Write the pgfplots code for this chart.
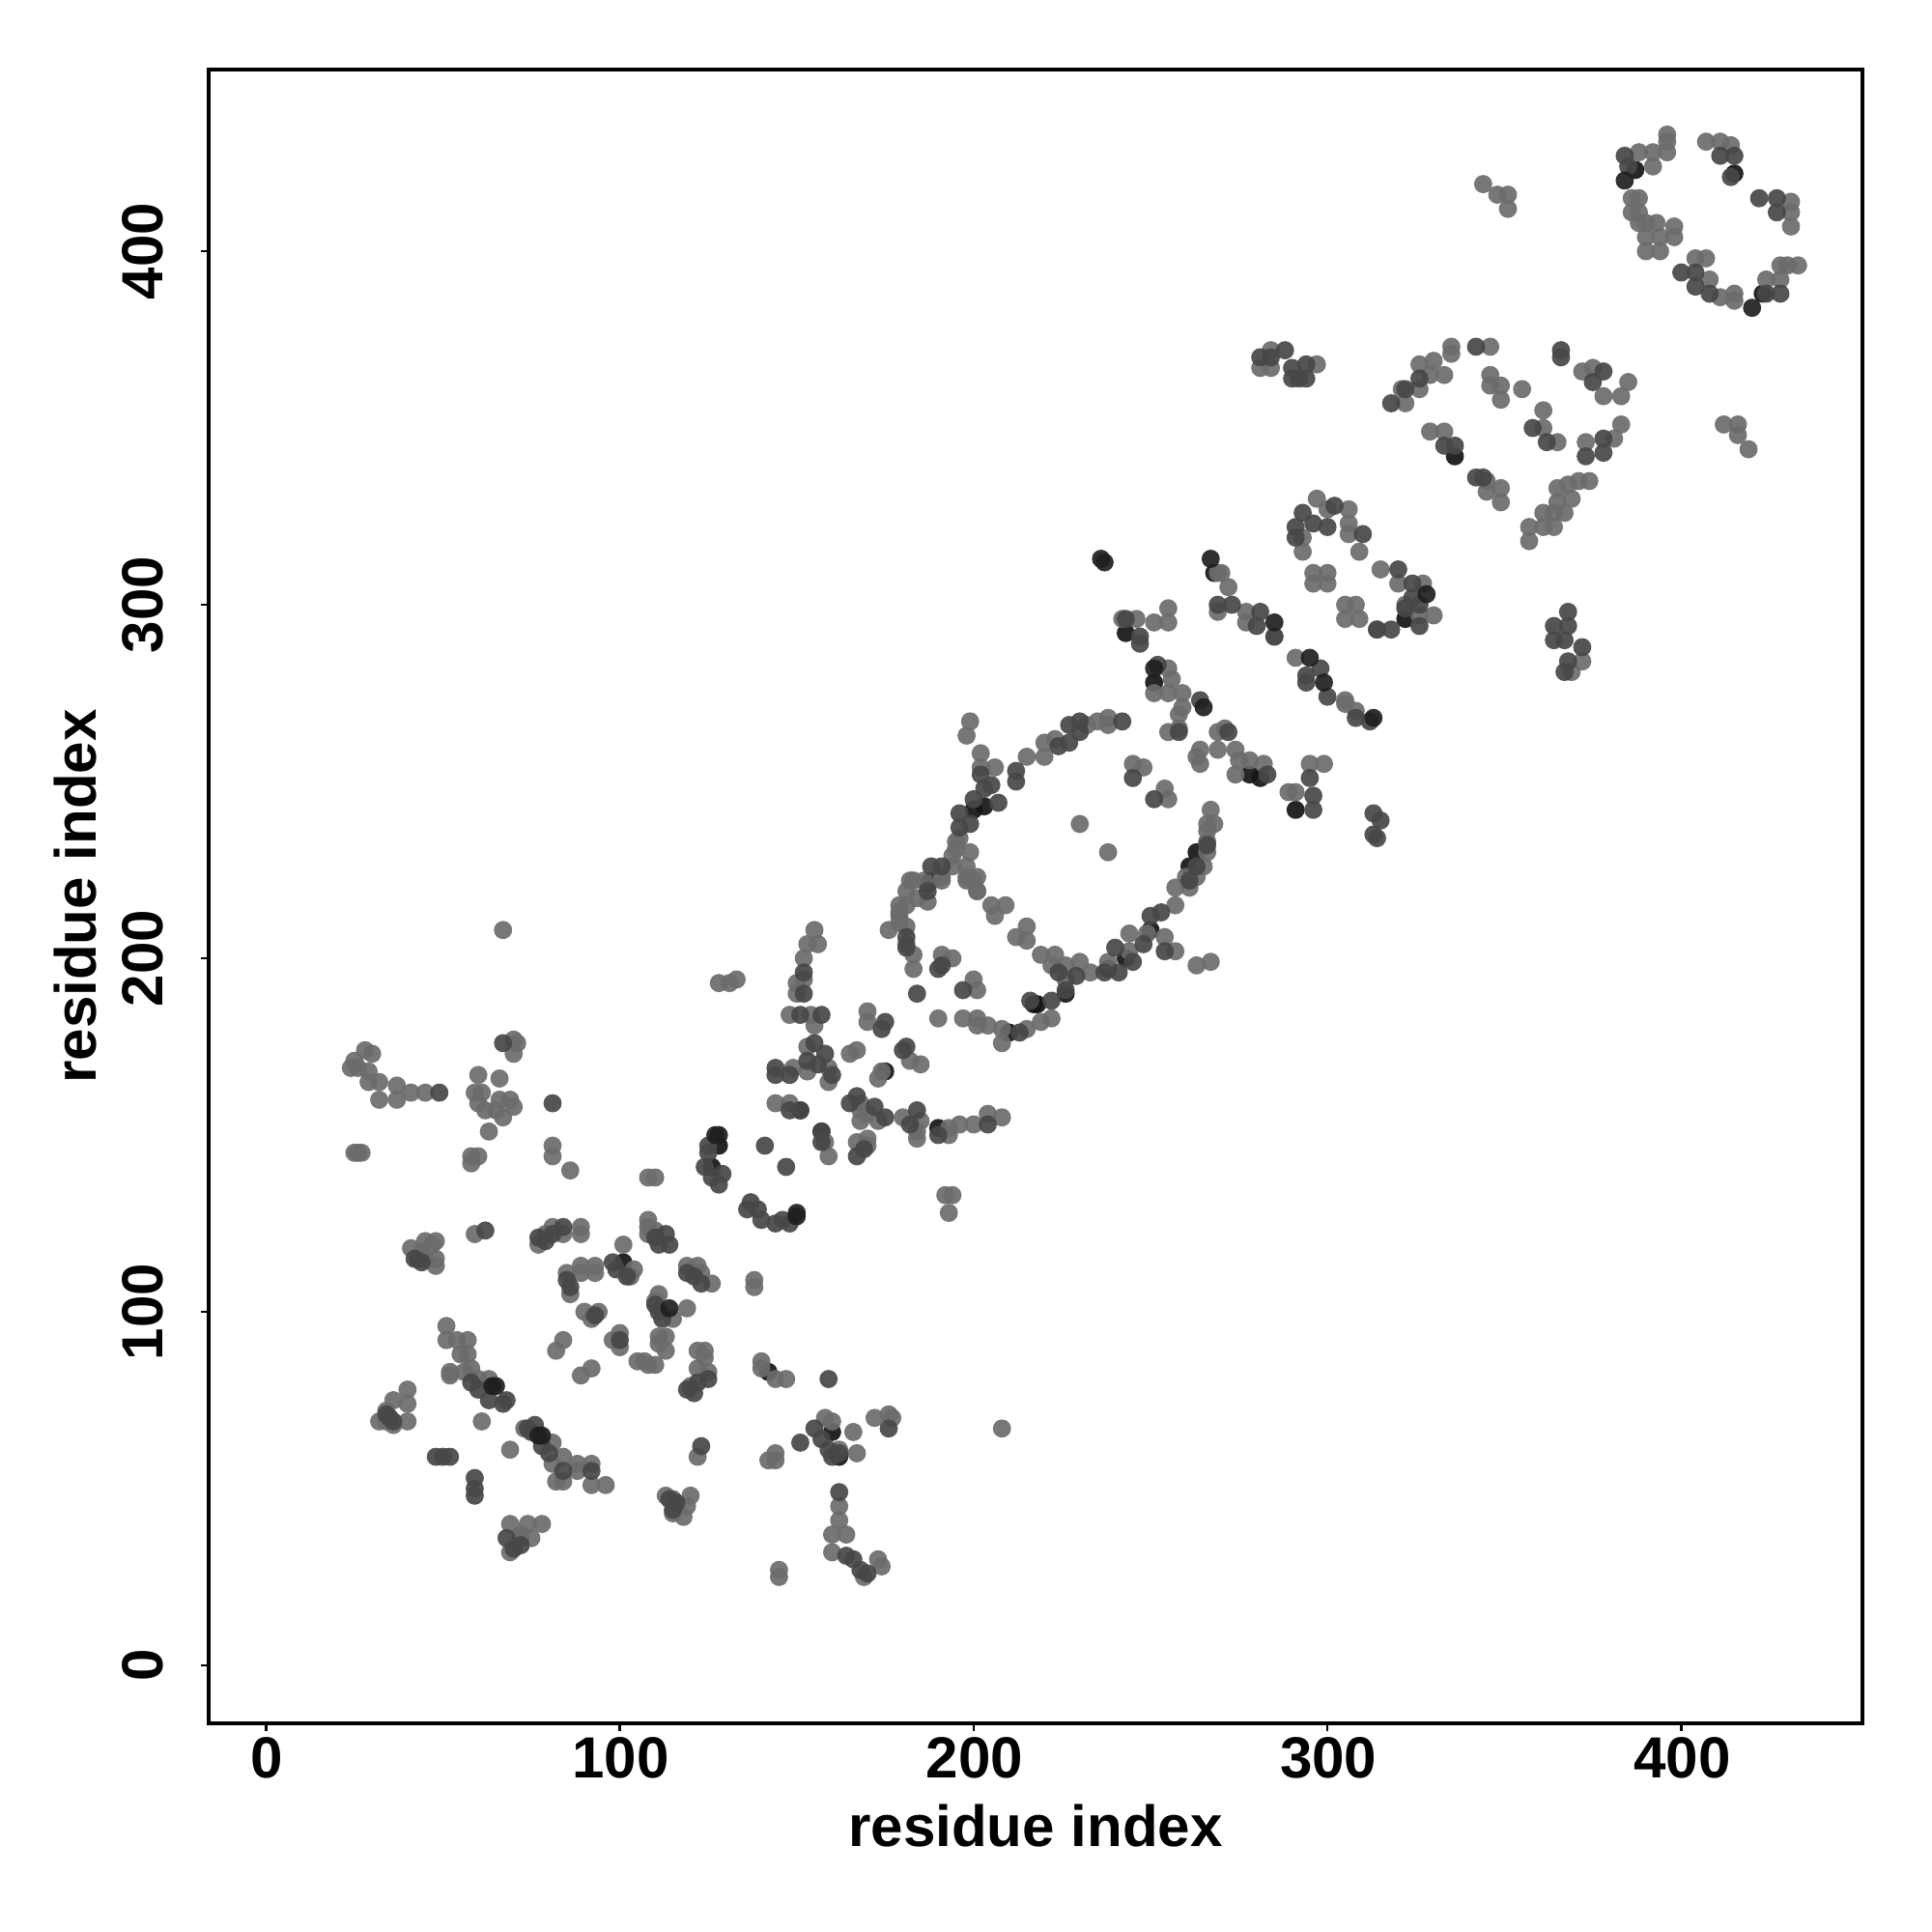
\documentclass[border=0pt]{standalone}
\usepackage{pgfplots}
\pgfplotsset{compat=1.18}
\usepackage{fontspec}
\setmainfont{Liberation Sans}
\pgfplotsset{
  contact/.style={only marks,mark=*,mark size=2.68pt,
    mark options={draw opacity=0,line width=0pt,fill=black!#1,fill opacity=0.92}},
}

\begin{document}
\begin{tikzpicture}
\path[use as bounding box] (0,0) rectangle (200mm,200mm);
\begin{axis}[
  at={(21.6mm,21.6mm)}, anchor=south west,
  scale only axis, width=171.2mm, height=171.2mm,
  xmin=-16.2, xmax=451.2, ymin=-16.4, ymax=451.4,
  xtick={0,100,200,300,400}, ytick={0,100,200,300,400},
  xtick pos=bottom, ytick pos=left, tick align=outside,
  major tick length=0.8mm,
  axis line style={line width=0.33mm},
  every tick/.style={black,line width=0.25mm},
  /pgf/number format/assume math mode=true,
  ticklabel style={font=\bfseries\fontsize{17.1}{17.1}\selectfont},
  xticklabel style={yshift=0.55mm,xshift=0.1mm},
  yticklabel style={rotate=90,anchor=south,yshift=2.6mm},
  label style={font=\bfseries\fontsize{17.1}{17.1}\selectfont},
  xlabel={residue index}, ylabel={residue index},
  xlabel style={at={(axis description cs:0.5,-0.0742)},anchor=base},
  ylabel style={at={(axis description cs:-0.068,0.5)},anchor=base},
]
% dark contacts, mostly covered by the others
\addplot[contact=92] coordinates {
(43,115)(101,114)(142,83)(151,157)(157,151)(190,152)(175,168)(203,243)(200,242)(188,222)(187,221)
(217,187)(218,187)(226,190)(238,197)(243,200)(250,208)(261,226)(263,230)(243,292)(251,278)
(278,252)(281,251)(291,242)(268,309)(322,296)(336,342)
(387,423)(423,388)(415,422)(210,179)(162,59)(160,66)(128,147)(126,141)
};
% light grey contacts
\addplot[contact=58] coordinates {
(67,208)(28,174)(30,173)(25,171)(24,169)(26,169)(29,168)(32,165)(29,165)(32,160)(37,164)(37,160)(41,162)(45,162)
(70,177)(71,176)(70,173)(60,167)(66,166)(59,162)(61,162)(60,159)(62,157)(66,160)(69,160)(70,158)(67,155)(63,151)(65,157)
(25,145)(26,145)(27,145)(58,144)(60,144)(58,142)(81,147)(81,144)(86,140)(108,138)(110,138)
(41,118)(45,120)(47,119)(48,120)(44,117)(45,115)(48,113)(48,115)(59,122)(77,119)(79,122)(81,124)(89,124)(89,122)(84,122)
(108,126)(108,124)(110,123)(108,122)(119,113)(122,113)(123,111)(126,108)(138,109)(138,107)
(85,111)(89,113)(93,113)(93,111)(86,105)(89,111)(101,119)(104,112)(103,110)(111,105)(110,103)(115,98)(119,101)
(90,100)(94,100)(92,98)(84,92)(82,89)(92,84)(89,82)(100,94)(98,92)(100,90)(113,93)(111,93)(113,89)(111,91)(110,85)(108,85)(107,86)(105,86)
(122,89)(124,89)(122,84)(125,83)(120,79)(124,87)(140,86)(140,84)(144,81)(147,81)
(51,96)(51,92)(54,92)(57,92)(57,88)(55,88)(52,83)(52,82)(56,83)(58,84)(60,81)(63,81)(61,69)
(40,78)(40,74)(36,75)(34,72)(32,69)(36,68)(40,69)(34,69)
(73,67)(81,63)(84,59)(88,57)(92,57)(88,55)(82,52)(84,52)(92,51)(96,51)(81,57)(69,61)
(69,40)(74,40)(78,40)(75,36)(72,36)(69,32)(72,37)(113,48)(120,48)(115,47)(119,45)(115,43)(118,42)
(122,59)(144,60)(142,58)(144,58)(145,27)(145,25)(158,70)(160,69)(166,66)(167,60)(162,61)(172,70)(176,71)(177,70)(208,67)
(162,45)(162,41)(160,37)(164,37)(160,32)(173,30)(174,28)(169,25)
(128,193)(131,193)(133,194)(155,208)(153,204)(156,204)(152,200)(152,194)(150,193)(150,190)(148,184)(154,184)(155,181)
(153,175)(153,168)(159,169)(159,165)(149,169)(144,159)(148,159)(168,159)(168,157)(170,156)(168,154)(173,154)(180,155)(185,154)
(184,149)(184,151)(193,150)(193,152)(196,153)(200,153)(204,156)(208,155)(170,185)(170,182)(167,174)(165,173)(182,171)(185,170)(174,168)(173,166)
(159,144)(158,148)(170,149)(167,148)(170,147)(192,133)(194,133)(193,128)
(176,208)(181,209)(179,210)(179,213)(181,219)(183,222)(181,215)(183,201)(183,197)(181,204)(187,216)(186,222)(191,223)(200,222)(201,219)(198,223)
(205,215)(209,215)(206,212)(215,209)(212,206)(215,205)(191,201)(194,200)(200,194)(201,191)(190,183)(197,183)(201,183)(201,181)(204,181)(208,180)(208,176)
(215,180)(219,182)(222,183)(219,201)(223,201)(222,198)(226,198)(230,199)(226,194)(233,196)(238,199)(244,202)(244,207)(249,207)(254,206)(257,215)(257,202)(263,198)(267,199)
(257,220)(261,220)(263,223)(260,223)(265,226)(266,230)(266,233)(266,236)(268,238)(266,238)(267,242)
(199,267)(198,263)(202,258)(202,254)(206,254)(215,257)(220,257)(220,261)(223,262)(232,266)(235,267)(238,268)(238,266)
(195,233)(196,234)(195,231)(194,229)(199,230)(198,226)(194,226)(201,223)(198,222)(201,219)(191,222)(182,222)(179,215)(179,212)(184,217)
(230,238)(238,230)(245,255)(248,254)(254,248)(255,245)
(242,296)(246,296)(251,295)(255,299)(255,295)(255,282)(251,275)(256,279)(255,275)(259,275)(259,271)(258,269)(258,265)(255,264)
(271,265)(269,264)(263,257)(264,259)(264,255)(269,259)(274,259)(275,256)(274,252)(278,256)(282,255)
(289,247)(291,247)(295,255)(299,255)(269,309)(270,309)(272,305)(269,298)(277,298)(277,295)(285,291)(291,285)(305,273)(305,272)(308,270)
(284,372)(281,367)(284,367)(297,368)(335,373)(335,371)(330,369)(326,368)(333,365)(329,365)(326,361)(321,361)(322,357)(346,373)
(346,365)(346,362)(349,362)(349,358)(355,361)(372,366)(375,367)(385,363)(378,359)(383,359)(361,355)(361,350)(365,346)
(383,351)(381,347)(373,346)(329,349)(333,349)(345,335)(349,333)(349,329)(345,332)
(374,335)(371,335)(368,334)(365,333)(369,330)(365,329)(367,326)(364,326)(361,326)(364,322)(361,322)(357,322)(357,318)
(297,330)(306,327)(293,319)(293,315)(300,327)(306,323)(306,320)(309,315)(296,309)(300,309)(296,306)(300,306)(305,300)(308,300)(305,296)(309,296)
(315,310)(320,306)(327,306)(330,297)(322,300)(326,297)(314,293)(372,284)(369,281)
(344,419)(348,416)(351,416)(351,412)(396,433)(396,431)(396,428)(392,428)(388,428)(392,424)(407,431)(411,431)(414,430)
(431,414)(431,411)(431,407)(428,396)(430,396)(433,396)(424,392)(428,392)(415,388)(411,387)(415,386)(408,392)(404,398)(407,398)
(386,415)(388,415)(386,411)(388,411)(388,408)(390,408)(393,408)(398,407)(398,404)(394,404)(390,404)(390,400)(394,400)
(412,351)(416,351)(416,348)(419,344)
};
% mid grey contacts
\addplot[contact=72] coordinates {
(49,162)(67,176)(81,159)(159,81)
(42,115)(44,114)(62,123)(79,120)(81,122)(84,124)(77,121)(110,121)(113,122)(114,119)(111,119)
(119,111)(121,110)(123,108)(98,114)(99,112)(102,110)(85,109)(86,107)(93,99)(100,92)(122,80)(125,81)(119,78)(121,77)
(110,102)(111,100)(112,98)(58,80)(60,78)(63,75)(67,74)(68,75)(74,67)(75,66)(76,68)(78,62)(80,60)(92,55)(84,55)
(34,71)(36,69)(35,70)(48,59)(52,59)(50,59)(59,53)(59,50)(59,48)(68,36)(72,34)(70,33)(115,44)(116,46)(114,47)
(123,62)(151,63)(155,67)(157,64)(159,61)(160,59)(162,60)(176,67)(162,49)(164,31)(166,30)(168,27)(170,26)
(125,147)(125,145)(124,141)(126,138)(129,139)(128,136)(141,147)(147,141)(157,151)(157,148)(167,144)(169,146)
(137,131)(136,129)(139,129)(140,126)(146,126)(148,125)(144,125)(152,196)(152,190)(151,184)(157,184)(155,176)(158,173)
(153,171)(156,170)(160,167)(144,169)(144,167)(148,167)(151,157)(148,157)(167,161)(165,159)(172,158)(175,155)(182,153)(184,157)
(190,150)(204,153)(175,182)(174,180)(181,175)(180,174)(184,190)(190,197)(191,198)(197,191)(213,179)(216,188)(222,188)
(226,191)(224,196)(229,195)(237,196)(241,196)(240,203)(245,199)(248,204)(250,212)(253,213)(254,202)(261,222)(263,226)(266,232)
(202,252)(203,248)(205,249)(212,250)(212,253)(207,244)(200,245)(196,241)(199,238)(196,237)(191,226)(188,226)(187,219)(181,206)(181,203)
(224,260)(227,261)(230,264)(227,266)(230,267)(242,267)(245,251)(251,245)(243,296)(247,291)(247,289)(252,283)(264,273)(258,264)
(272,264)(283,252)(296,246)(295,251)(296,242)(269,300)(273,300)(281,298)(280,294)(285,291)(294,280)(298,282)(294,278)(300,274)
(308,268)(312,267)(281,370)(284,370)(288,372)(290,367)(290,364)(294,368)(294,364)(292,364)(322,361)(318,357)(326,364)(342,373)
(366,372)(366,370)(375,363)(378,366)(358,350)(362,346)(378,347)(373,342)(378,343)(333,345)(336,345)(342,336)(344,336)(293,326)
(291,322)(291,319)(302,328)(300,322)(310,320)(296,323)(320,310)(324,306)(324,302)(326,300)(322,299)(318,293)(314,293)(326,294)
(364,294)(364,290)(367,290)(368,298)(368,294)(372,288)(368,284)(367,281)(400,394)(404,390)(404,394)(408,388)(384,427)(385,424)
(411,427)(415,427)(414,421)(422,415)(427,415)(427,411)(424,388)(428,388)(313,241)(315,239)(313,235)(314,234)
};
% darkest contacts on top
\addplot[contact=88] coordinates {
(64,79)(65,79)(77,65)(78,65)(114,101)(127,150)(128,150)(150,128)(150,127)
(236,313)(237,312)(251,282)(265,271)(267,313)(285,295)(295,285)(299,278)(313,268)(328,303)(384,420)(420,384)
};
\end{axis}
\end{tikzpicture}
\end{document}
